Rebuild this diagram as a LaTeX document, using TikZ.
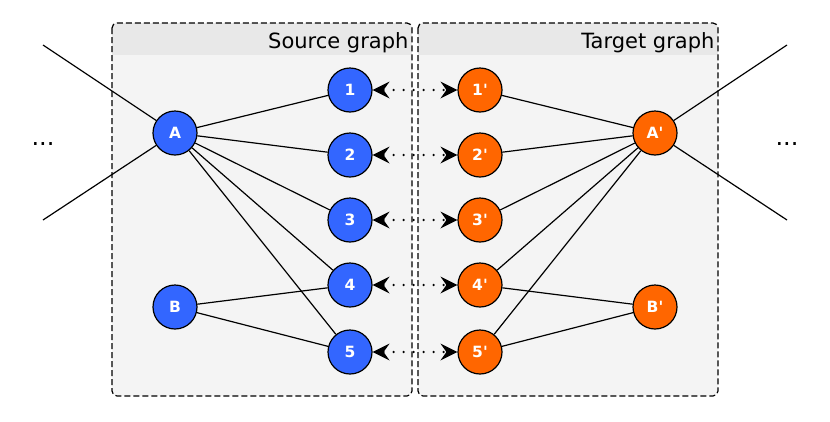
\documentclass[tikz,border=0pt]{standalone}
\usepackage{fontspec}
\setmainfont{DejaVu Sans}
\usetikzlibrary{arrows.meta}
\definecolor{nblue}{HTML}{3366FF}
\definecolor{norange}{HTML}{FF6600}
\definecolor{panelbg}{HTML}{F4F4F4}
\definecolor{headbg}{HTML}{E8E8E8}
\newcommand{\pr}{\textquotesingle}
\tikzset{
  vtx/.style={circle, draw=black, line width=1.2pt, minimum size=44pt, inner sep=0pt,
    text=white, font=\fontsize{15.5}{15.5}\selectfont\bfseries},
  srcv/.style={vtx, fill=nblue},
  tgtv/.style={vtx, fill=norange},
  edge/.style={line width=1.2pt},
  corr/.style={line width=2.6pt, dash pattern=on 0pt off 10pt, line cap=round,
    {Stealth[length=17pt,width=17pt,inset=6pt,line cap=butt,line width=0pt]}-{Stealth[length=17pt,width=17pt,inset=6pt,line cap=butt,line width=0pt]}},
  panelborder/.style={line width=1.2pt, rounded corners=5pt, dash pattern=on 6pt off 3pt},
  title/.style={anchor=base east, font=\fontsize{21}{21}\selectfont},
  more/.style={anchor=base, font=\fontsize{24}{24}\selectfont},
}
\begin{document}
\begin{tikzpicture}[x=1pt,y=-1pt]
\useasboundingbox (0,0) rectangle (830,421);
% panels
\foreach \xa/\xb in {112/412, 418/718}{
  \fill[panelbg, rounded corners=5pt] (\xa,23) rectangle (\xb,396);
  \begin{scope}
    \clip[rounded corners=5pt] (\xa,23) rectangle (\xb,396);
    \fill[headbg] (\xa,23) rectangle (\xb,55);
  \end{scope}
  \draw[panelborder] (\xa,23) rectangle (\xb,396);
}
\node[title] (st) at (412,48) {Source graph};
\node[title] (tt) at (718,48) {Target graph};
% nodes
\node[srcv] (A) at (175,133) {A};
\node[srcv] (B) at (175,307) {B};
\node[srcv] (n1) at (350,90) {1};
\node[srcv] (n2) at (350,155) {2};
\node[srcv] (n3) at (350,220) {3};
\node[srcv] (n4) at (350,285) {4};
\node[srcv] (n5) at (350,352) {5};
\node[tgtv] (m1) at (480,90) {1\pr};
\node[tgtv] (m2) at (480,155) {2\pr};
\node[tgtv] (m3) at (480,220) {3\pr};
\node[tgtv] (m4) at (480,285) {4\pr};
\node[tgtv] (m5) at (480,352) {5\pr};
\node[tgtv] (Ap) at (655,133) {A\pr};
\node[tgtv] (Bp) at (655,307) {B\pr};
% outer ends
\coordinate (la) at (43,45);
\coordinate (lb) at (43,220);
\coordinate (ra) at (787,45);
\coordinate (rb) at (787,220);
\node[more] (ldots) at (43,145) {...};
\node[more] (rdots) at (787,145) {...};
% edges
\foreach \t in {n1,n2,n3,n4,n5} \draw[edge] (A) -- (\t);
\foreach \t in {n4,n5} \draw[edge] (B) -- (\t);
\foreach \t in {m1,m2,m3,m4,m5} \draw[edge] (Ap) -- (\t);
\foreach \t in {m4,m5} \draw[edge] (Bp) -- (\t);
\draw[edge] (A) -- (la);
\draw[edge] (A) -- (lb);
\draw[edge] (Ap) -- (ra);
\draw[edge] (Ap) -- (rb);
% correspondences
\foreach \i in {1,...,5} \draw[corr] (n\i) -- (m\i);
\end{tikzpicture}
\end{document}
